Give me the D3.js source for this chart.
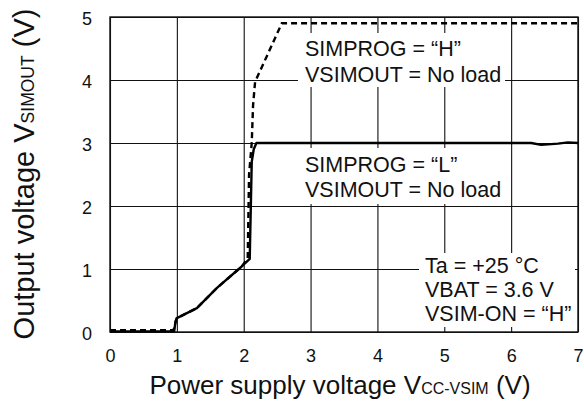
<!DOCTYPE html>
<html>
<head>
<meta charset="utf-8">
<script src="https://cdn.jsdelivr.net/npm/d3@7"></script>
<style>
  body { margin: 0; background: #fff; }
  svg text { font-family: "Liberation Sans", Arial, sans-serif; fill: #111; }
</style>
</head>
<body>
<div id="chart"></div>
<script>
// values
const xTicks = [0, 1, 2, 3, 4, 5, 6, 7];
const yTicks = [0, 1, 2, 3, 4, 5];

// SIMPROG = "L" (solid)
const lowX = [0, 0.96, 0.98, 1.0, 1.3, 1.6, 1.97, 2.09, 2.12, 2.15, 2.19, 3, 4, 5, 6, 6.3, 6.45, 6.7, 6.85, 7];
const lowY = [0.01, 0.01, 0.17, 0.22, 0.38, 0.7, 1.04, 1.16, 2.7, 2.9, 3.0, 3.0, 3.0, 3.0, 3.0, 3.0, 2.97, 2.99, 3.01, 3.0];

// SIMPROG = "H" (dashed)
const highX = [0, 0.95, 0.98, 1.0, 1.3, 1.6, 1.97, 2.06, 2.08, 2.12, 2.14, 2.17, 2.57, 3, 4, 5, 6, 7];
const highY = [0.03, 0.03, 0.15, 0.22, 0.38, 0.7, 1.04, 1.17, 2.5, 3.0, 3.6, 3.97, 4.9, 4.9, 4.9, 4.9, 4.9, 4.9];

const noteH = ["SIMPROG = \u201cH\u201d", "VSIMOUT = No load"];
const noteL = ["SIMPROG = \u201cL\u201d", "VSIMOUT = No load"];
const noteCond = ["Ta = +25 \u00b0C", "VBAT = 3.6 V", "VSIM-ON = \u201cH\u201d"];

const width = 584, height = 402;
const margin = { top: 17, right: 6, bottom: 70, left: 110 };

const svg = d3.select("#chart").append("svg")
  .attr("width", width)
  .attr("height", height);

const x = d3.scaleLinear().domain([0, 7]).range([margin.left, width - margin.right]);
const y = d3.scaleLinear().domain([0, 5]).range([height - margin.bottom, margin.top]);

// gridlines
svg.append("g")
  .attr("transform", `translate(0,${y(0)})`)
  .call(d3.axisBottom(x).tickValues(xTicks).tickFormat("").tickSize(-(y(0) - y(5))))
  .call(g => g.select(".domain").remove())
  .call(g => g.selectAll("line").attr("stroke", "#111").attr("stroke-width", 1.1));

svg.append("g")
  .attr("transform", `translate(${x(0)},0)`)
  .call(d3.axisLeft(y).tickValues(yTicks).tickFormat("").tickSize(-(x(7) - x(0))))
  .call(g => g.select(".domain").remove())
  .call(g => g.selectAll("line").attr("stroke", "#111").attr("stroke-width", 1.1));

// note boxes hide the grid behind them
function noteBox(x0, y0, w, h) {
  svg.append("rect").attr("x", x0).attr("y", y0).attr("width", w).attr("height", h).attr("fill", "#fff");
}
noteBox(298, 33, 207, 54);
noteBox(298, 148, 207, 56);
noteBox(419, 253, 156, 74);

// frame
svg.append("rect")
  .attr("x", x(0)).attr("y", y(5))
  .attr("width", x(7) - x(0)).attr("height", y(0) - y(5))
  .attr("fill", "none").attr("stroke", "#111").attr("stroke-width", 1.4);

// tick labels
svg.append("g")
  .attr("transform", `translate(0,${y(0)})`)
  .call(d3.axisBottom(x).tickValues(xTicks).tickFormat(d3.format("d")).tickSize(0).tickPadding(17))
  .call(g => g.select(".domain").remove())
  .call(g => g.selectAll("text").attr("font-size", 18).attr("font-family", null));

svg.append("g")
  .attr("transform", `translate(${x(0)},0)`)
  .call(d3.axisLeft(y).tickValues(yTicks).tickFormat(d3.format("d")).tickSize(0).tickPadding(18))
  .call(g => g.select(".domain").remove())
  .call(g => g.selectAll("text").attr("font-size", 18).attr("font-family", null).attr("dy", "0.42em"));

// curves
const line = d3.line().x(d => x(d[0])).y(d => y(d[1]));

svg.append("path")
  .datum(d3.zip(highX, highY))
  .attr("d", line)
  .attr("fill", "none")
  .attr("stroke", "#000")
  .attr("stroke-width", 2.4)
  .attr("stroke-dasharray", "6,4");

svg.append("path")
  .datum(d3.zip(lowX, lowY))
  .attr("d", line)
  .attr("fill", "none")
  .attr("stroke", "#000")
  .attr("stroke-width", 2.4)
  .attr("stroke-linejoin", "round");

// note texts
function noteText(lines, x0, y0, step) {
  lines.forEach((t, i) => {
    svg.append("text").attr("x", x0).attr("y", y0 + i * step).attr("font-size", 21.5).text(t);
  });
}
noteText(noteH, 305, 56, 26);
noteText(noteL, 305, 171.5, 25.5);
noteText(noteCond, 425, 273, 24.2);

// axis titles
const xt = svg.append("text")
  .attr("x", 340).attr("y", 394)
  .attr("text-anchor", "middle")
  .attr("font-size", 26);
xt.append("tspan").text("Power supply voltage V");
xt.append("tspan").attr("font-size", 16).text("CC-VSIM");
xt.append("tspan").text(" (V)");

const yt = svg.append("text")
  .attr("transform", `translate(34,174) rotate(-90)`)
  .attr("text-anchor", "middle")
  .attr("font-size", 29);
yt.append("tspan").text("Output voltage V");
yt.append("tspan").attr("font-size", 17.5).text("SIMOUT");
yt.append("tspan").text(" (V)");
</script>
</body>
</html>
